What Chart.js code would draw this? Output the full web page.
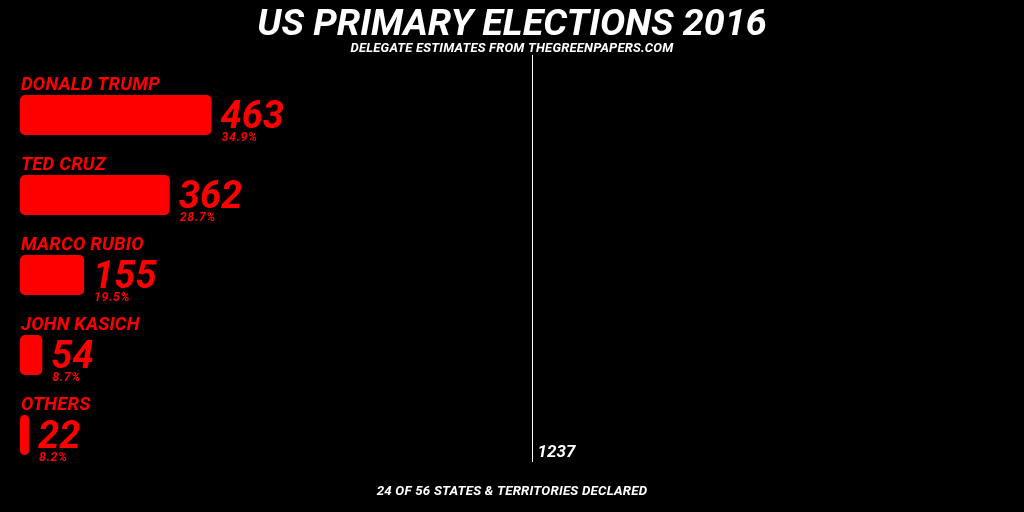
<!DOCTYPE html>
<html>
<head>
<meta charset="utf-8">
<script src="https://cdn.jsdelivr.net/npm/chart.js@4"></script>
<style>
html,body{margin:0;padding:0;background:#000;}
canvas{display:block;}
</style>
</head>
<body>
<canvas id="c" width="1024" height="512"></canvas>
<script>
const candidates = ["DONALD TRUMP", "TED CRUZ", "MARCO RUBIO", "JOHN KASICH", "OTHERS"];
const delegates = [463, 362, 155, 54, 22];
const percents = ["34.9%", "28.7%", "19.5%", "8.7%", "8.2%"];
const threshold = 1237;
const titleText = "US PRIMARY ELECTIONS 2016";
const subtitleText = "DELEGATE ESTIMATES FROM THEGREENPAPERS.COM";
const footerText = "24 OF 56 STATES & TERRITORIES DECLARED";

const FONT = "Roboto, 'DejaVu Sans', sans-serif";
const RED = "#ff0000";

const overlay = {
  id: "overlay",
  afterDatasetsDraw(chart) {
    const ctx = chart.ctx;
    const xs = chart.scales.x;
    const meta = chart.getDatasetMeta(0);
    ctx.save();
    // threshold line
    const lx = Math.round(xs.getPixelForValue(threshold)) + 0.5;
    ctx.strokeStyle = "#ffffff";
    ctx.lineWidth = 1;
    ctx.beginPath();
    ctx.moveTo(lx, chart.chartArea.top - 20);
    ctx.lineTo(lx, chart.chartArea.bottom - 13);
    ctx.stroke();
    ctx.fillStyle = "#ffffff";
    ctx.font = "italic 700 17px " + FONT;
    ctx.textAlign = "left";
    ctx.textBaseline = "alphabetic";
    ctx.fillText(String(threshold), lx + 5, chart.chartArea.bottom - 18);

    // labels
    meta.data.forEach((bar, i) => {
      const top = bar.y - bar.height / 2;
      const bottom = bar.y + bar.height / 2;
      const left = xs.getPixelForValue(0);
      ctx.fillStyle = RED;
      ctx.textAlign = "left";
      ctx.font = "italic 700 18.5px " + FONT;
      if ("letterSpacing" in ctx) ctx.letterSpacing = "0.2px";
      ctx.fillText(candidates[i], left + 1, top - 5);
      if ("letterSpacing" in ctx) ctx.letterSpacing = "0px";
      ctx.font = "italic 700 38px " + FONT;
      ctx.fillText(String(delegates[i]), bar.x + 9, bottom - 7);
      ctx.font = "italic 700 12.5px " + FONT;
      if ("letterSpacing" in ctx) ctx.letterSpacing = "0.5px";
      ctx.fillText(percents[i], bar.x + 10, bottom + 6);
      if ("letterSpacing" in ctx) ctx.letterSpacing = "0px";
    });

    // titles
    ctx.fillStyle = "#ffffff";
    ctx.textAlign = "center";
    ctx.font = "italic 700 37.7px " + FONT;
    ctx.fillText(titleText, 512, 35);
    ctx.font = "italic 700 13px " + FONT;
    if ("letterSpacing" in ctx) ctx.letterSpacing = "0.2px";
    ctx.fillText(subtitleText, 512, 52);
    ctx.font = "italic 700 13.3px " + FONT;
    ctx.fillText(footerText, 512, 495);
    ctx.restore();
  }
};

new Chart(document.getElementById("c"), {
  type: "bar",
  data: {
    labels: candidates,
    datasets: [{
      data: delegates,
      backgroundColor: RED,
      borderWidth: 0,
      borderRadius: 5,
      borderSkipped: false,
      barPercentage: 0.5,
      categoryPercentage: 1.0
    }]
  },
  options: {
    indexAxis: "y",
    responsive: false,
    devicePixelRatio: 1,
    animation: false,
    layout: { padding: { left: 20, right: 0, top: 75, bottom: 37 } },
    scales: {
      x: { display: false, min: 0, max: 2427 },
      y: { display: false }
    },
    plugins: {
      legend: { display: false },
      tooltip: { enabled: false },
      title: { display: false }
    }
  },
  plugins: [overlay]
});
</script>
</body>
</html>
